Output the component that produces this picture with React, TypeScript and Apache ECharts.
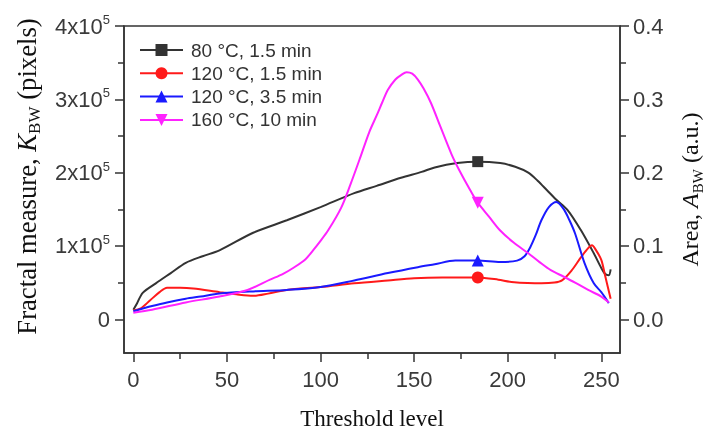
import React, { useEffect, useRef } from "react";
import * as echarts from "echarts";

// Threshold levels and fractal measure values (pixels)
const T_80_15 = [0, 2, 5, 12, 20, 28, 37, 46, 64, 82, 100, 118, 130, 143, 154, 161, 173, 184, 196, 204, 211, 216, 221, 226, 232, 239, 246, 250, 252, 254, 255];
const K_80_15 = [13000, 22000, 36000, 49000, 63000, 77000, 86000, 94000, 118000, 135000, 153000, 172000, 182000, 193000, 201000, 207000, 213000, 215000, 213000, 208000, 200000, 189000, 176000, 163000, 149000, 122000, 90000, 70000, 62000, 60000, 68000];

const T_120_15 = [0, 4, 9, 14, 18, 25, 32, 46, 55, 64, 72, 82, 100, 118, 136, 150, 165, 184, 195, 202, 218, 225, 229, 234, 239, 243, 245, 247, 250, 252, 255];
const K_120_15 = [12000, 15000, 26000, 37000, 43000, 43000, 42000, 37000, 34000, 32000, 35000, 40000, 44000, 49000, 53000, 56000, 57000, 57000, 54000, 51000, 49000, 50000, 53000, 66000, 84000, 97000, 101000, 95000, 81000, 60000, 28000];

const T_120_35 = [0, 10, 18, 28, 36, 46, 64, 82, 100, 118, 136, 152, 161, 172, 184, 196, 205, 209, 212, 215, 218, 222, 226, 230, 233, 236, 241, 246, 250, 254];
const K_120_35 = [11000, 18000, 23000, 28000, 31000, 35000, 38000, 40000, 44000, 53000, 63000, 71000, 75000, 80000, 80000, 78000, 80000, 86000, 98000, 115000, 135000, 153000, 160000, 150000, 135000, 117000, 77000, 49000, 37000, 22000];

const T_160_10 = [0, 10, 28, 46, 61, 73, 80, 86, 92, 96, 100, 104, 111, 116, 121, 126, 130, 133, 136, 140, 143, 146, 149, 152, 155, 159, 164, 170, 174, 180, 184, 190, 196, 203, 211, 217, 223, 230, 236, 243, 250, 254];
const K_160_10 = [9000, 13000, 23000, 31000, 40000, 54000, 62000, 71000, 82000, 94000, 107000, 121000, 152000, 184000, 219000, 255000, 278000, 296000, 313000, 327000, 333000, 337000, 335000, 327000, 315000, 295000, 263000, 225000, 204000, 176000, 159000, 140000, 121000, 105000, 90000, 78000, 67000, 58000, 50000, 40000, 31000, 23000];

const SERIES_NAMES = ["80 °C, 1.5 min", "120 °C, 1.5 min", "120 °C, 3.5 min", "160 °C, 10 min"];
const MARK_T = 184;
const MARK_K = [215000, 57000, 80000, 159000];

const X_MAJOR = [0, 50, 100, 150, 200, 250];
const X_MINOR = [25, 75, 125, 175, 225];
const YL_MAJOR = [0, 100000, 200000, 300000, 400000];
const YL_MINOR = [50000, 150000, 250000, 350000];
const YR_MAJOR = [0, 0.1, 0.2, 0.3, 0.4];
const YR_MINOR = [0.05, 0.15, 0.25, 0.35];

const zip = (t: number[], k: number[]) => t.map((v, i) => [v, k[i]]);

export default function App() {
  const ref = useRef<HTMLDivElement>(null);
  useEffect(() => {
    document.body.style.margin = "0";
    const chart = echarts.init(ref.current!, null, { renderer: "svg" });
    const axisColor = "#333";
    const tickFont = "'Liberation Sans', Arial, sans-serif";
    const serifFont = "'Liberation Serif', 'Times New Roman', serif";
    const colors = ["#333333", "#ff1a1a", "#1a1aff", "#ff22ff"];
    const symbols = ["rect", "circle", "triangle", "triangle"];
    const rotates = [0, 0, 0, 180];
    const sizes = [11, 12, 12, 12];
    const datas = [
      zip(T_80_15, K_80_15),
      zip(T_120_15, K_120_15),
      zip(T_120_35, K_120_35),
      zip(T_160_10, K_160_10),
    ];
    const yMin = -46000;
    const yMax = 400000;
    const rMin = -0.046;
    const rMax = 0.4;
    const titleRich = (size: number) => ({
      n: { fontFamily: serifFont, fontSize: size, color: "#111", lineHeight: 32, verticalAlign: "bottom" },
      i: { fontFamily: serifFont, fontSize: size, fontStyle: "italic", color: "#111", lineHeight: 32, verticalAlign: "bottom" },
      sub: { fontFamily: serifFont, fontSize: Math.round(size * 0.64), color: "#111", lineHeight: 32, verticalAlign: "bottom", padding: [0, 0, -3, 0] },
    });
    const option: any = {
      animation: false,
      grid: {
        left: 124,
        right: 102,
        top: 26,
        bottom: 77,
        outerBoundsMode: "none",
        containLabel: false,
        show: true,
        borderColor: axisColor,
        borderWidth: 1.5,
        backgroundColor: "transparent",
      },
      legend: {
        left: 134,
        top: 35,
        orient: "vertical",
        itemWidth: 43,
        itemHeight: 15,
        itemGap: 3.3,
        textStyle: {
          fontFamily: tickFont,
          fontSize: 19,
          color: "#333",
          lineHeight: 20,
          padding: [0, 0, 0, 3],
        },
        data: SERIES_NAMES,
      },
      xAxis: [
        {
          type: "value",
          position: "bottom",
          min: -5,
          max: 260,
          axisLine: { show: true, onZero: false, lineStyle: { color: axisColor, width: 1.5 } },
          axisTick: { show: true, length: 9, customValues: X_MAJOR, lineStyle: { color: axisColor, width: 1.5 } },
          axisLabel: { customValues: X_MAJOR, margin: 15, fontFamily: tickFont, fontSize: 22, color: "#3a3a3a" },
          splitLine: { show: false },
          name: "Threshold level",
          nameLocation: "middle",
          nameGap: 54,
          nameTextStyle: { fontFamily: serifFont, fontSize: 23, color: "#111" },
        },
        {
          type: "value",
          position: "bottom",
          min: -5,
          max: 260,
          axisLine: { show: false, onZero: false },
          axisTick: { show: true, length: 6, customValues: X_MINOR, lineStyle: { color: axisColor, width: 1.5 } },
          axisLabel: { show: false },
          splitLine: { show: false },
        },
      ],
      yAxis: [
        {
          type: "value",
          position: "left",
          min: yMin,
          max: yMax,
          axisLine: { show: true, onZero: false, lineStyle: { color: axisColor, width: 1.5 } },
          axisTick: { show: true, length: 9, customValues: YL_MAJOR, lineStyle: { color: axisColor, width: 1.5 } },
          axisLabel: {
            customValues: YL_MAJOR,
            margin: 14,
            color: "#3a3a3a",
            fontFamily: tickFont,
            fontSize: 22,
            formatter: (v: number) => (v === 0 ? "0" : `{a|${Math.round(v / 100000)}x10}{s|5}`),
            rich: {
              a: { fontFamily: tickFont, fontSize: 22, color: "#3a3a3a", lineHeight: 26, verticalAlign: "middle" },
              s: { fontFamily: tickFont, fontSize: 13, color: "#3a3a3a", lineHeight: 26, verticalAlign: "top" },
            },
          },
          splitLine: { show: false },
          name: "{n|Fractal measure, }{i|K}{sub|BW}{n| (pixels)}",
          nameLocation: "middle",
          nameRotate: 90,
          nameGap: 84,
          nameTextStyle: { rich: titleRich(26.7), padding: [0, 0, 0, 26] },
        },
        {
          type: "value",
          position: "left",
          min: yMin,
          max: yMax,
          axisLine: { show: false, onZero: false },
          axisTick: { show: true, length: 6, customValues: YL_MINOR, lineStyle: { color: axisColor, width: 1.5 } },
          axisLabel: { show: false },
          splitLine: { show: false },
        },
        {
          type: "value",
          position: "right",
          min: rMin,
          max: rMax,
          axisLine: { show: true, onZero: false, lineStyle: { color: axisColor, width: 1.5 } },
          axisTick: { show: true, length: 9, customValues: YR_MAJOR, lineStyle: { color: axisColor, width: 1.5 } },
          axisLabel: {
            customValues: YR_MAJOR,
            margin: 13,
            color: "#3a3a3a",
            fontFamily: tickFont,
            fontSize: 22,
            formatter: (v: number) => v.toFixed(1),
          },
          splitLine: { show: false },
          name: "{n|Area, }{i|A}{sub|BW}{n| (a.u.)}",
          nameLocation: "middle",
          nameRotate: 90,
          nameGap: 50,
          nameTextStyle: { rich: titleRich(24) },
        },
        {
          type: "value",
          position: "right",
          min: rMin,
          max: rMax,
          axisLine: { show: false, onZero: false },
          axisTick: { show: true, length: 6, customValues: YR_MINOR, lineStyle: { color: axisColor, width: 1.5 } },
          axisLabel: { show: false },
          splitLine: { show: false },
        },
      ],
      series: SERIES_NAMES.map((name, i) => ({
        name,
        type: "line",
        xAxisIndex: 0,
        yAxisIndex: 0,
        data: datas[i],
        showSymbol: false,
        symbol: symbols[i],
        symbolRotate: rotates[i],
        symbolSize: sizes[i],
        smooth: 0.3,
        color: colors[i],
        lineStyle: { color: colors[i], width: 2 },
        itemStyle: { color: colors[i] },
        markPoint: {
          symbol: symbols[i],
          symbolSize: sizes[i],
          symbolRotate: rotates[i],
          label: { show: false },
          itemStyle: { color: colors[i] },
          data: [{ coord: [MARK_T, MARK_K[i]] }],
        },
      })),
    };
    chart.setOption(option);
    return () => chart.dispose();
  }, []);
  return <div ref={ref} style={{ position: "fixed", left: 0, top: 0, width: 722, height: 430 }} />;
}
